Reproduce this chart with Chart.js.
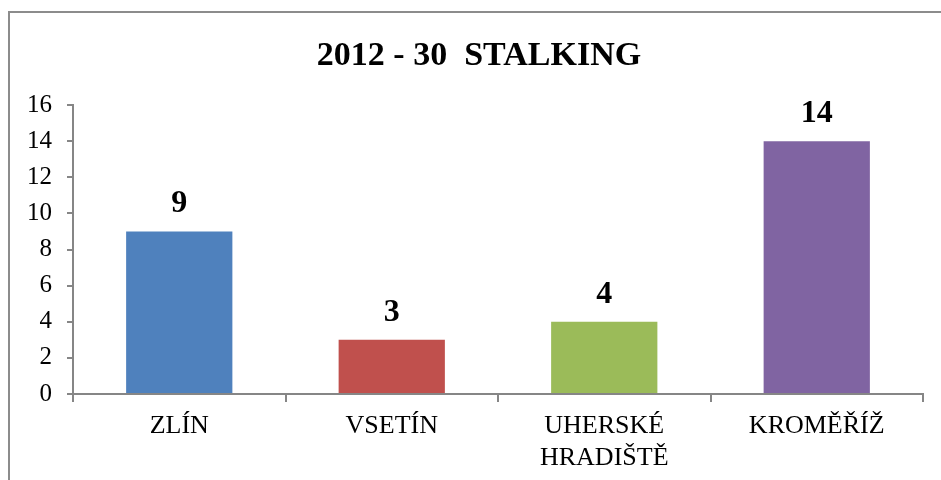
<!DOCTYPE html>
<html lang="cs">
<head>
    <meta charset="UTF-8">
    <title>2012 - 30 STALKING</title>
    <style>
    body {
        margin: 0;
        background-color: #fff;
        overflow: hidden;
    }
    /* ramecek grafu, vpravo a dole oriznuty */
    .frame {
        position: absolute;
        left: 8px;
        top: 11px;
        width: 1000px;
        height: 600px;
        border-left: 2px solid #8c8c8c;
        border-top: 2px solid #8c8c8c;
    }
    .chart-box {
        position: absolute;
        left: 0;
        top: 0;
        width: 941px;
        height: 480px;
    }
    </style>
</head>
<body>
<div class="frame"></div>
<div class="chart-box"><canvas id="chart"></canvas></div>

<script src="https://cdn.jsdelivr.net/npm/chart.js"></script>
<script>
    var titleText = '2012 - 30  STALKING';
    var categories = [['ZLÍN'], ['VSETÍN'], ['UHERSKÉ', 'HRADIŠTĚ'], ['KROMĚŘÍŽ']];
    var values = [9, 3, 4, 14];
    var barColors = ['#4F81BD', '#C0504D', '#9BBB59', '#8064A2'];
    var yTicks = [0, 2, 4, 6, 8, 10, 12, 14, 16];

    var serif = '"Liberation Serif", "Times New Roman", serif';
    var axisColor = '#868686';

    // nadpis je centrovany na cely ramecek, ne na oblast grafu
    var frameTitle = {
        id: 'frameTitle',
        afterDraw: function(chart) {
            var ctx = chart.ctx;
            ctx.save();
            ctx.font = 'bold 34px ' + serif;
            ctx.fillStyle = '#000';
            ctx.textAlign = 'center';
            ctx.textBaseline = 'alphabetic';
            ctx.fillText(titleText, 479, 65);
            ctx.restore();
        }
    };

    // hodnoty nad sloupci
    var valueLabels = {
        id: 'valueLabels',
        afterDatasetsDraw: function(chart) {
            var ctx = chart.ctx;
            var meta = chart.getDatasetMeta(0);
            ctx.save();
            ctx.font = 'bold 32px ' + serif;
            ctx.fillStyle = '#000';
            ctx.textAlign = 'center';
            ctx.textBaseline = 'alphabetic';
            meta.data.forEach(function(bar, i) {
                ctx.fillText(String(values[i]), bar.x, bar.y - 19);
            });
            ctx.restore();
        }
    };

    new Chart(document.getElementById('chart'), {
        type: 'bar',
        data: {
            labels: categories,
            datasets: [{
                data: values,
                backgroundColor: barColors,
                borderWidth: 0,
                barPercentage: 0.5,
                categoryPercentage: 1
            }]
        },
        options: {
            responsive: true,
            maintainAspectRatio: false,
            animation: false,
            layout: {
                padding: { left: 0, right: 18, top: 105, bottom: 0 }
            },
            plugins: {
                legend: { display: false },
                tooltip: { enabled: false },
                title: { display: false }
            },
            scales: {
                x: {
                    grid: {
                        display: true,
                        offset: true,
                        drawOnChartArea: false,
                        drawTicks: true,
                        tickLength: 8,
                        color: axisColor,
                        lineWidth: 2
                    },
                    border: { display: true, color: axisColor, width: 2 },
                    ticks: {
                        color: '#000',
                        padding: 9,
                        maxRotation: 0,
                        autoSkip: false,
                        font: { family: serif, size: 26, lineHeight: 1.2 }
                    },
                    afterFit: function(scale) { scale.height = 86; }
                },
                y: {
                    min: 0,
                    max: 16,
                    afterBuildTicks: function(scale) {
                        scale.ticks = yTicks.map(function(v) { return { value: v }; });
                    },
                    grid: {
                        display: true,
                        drawOnChartArea: false,
                        drawTicks: true,
                        tickLength: 6,
                        color: axisColor,
                        lineWidth: 2
                    },
                    border: { display: true, color: axisColor, width: 2 },
                    ticks: {
                        color: '#000',
                        padding: 15,
                        font: { family: serif, size: 25 }
                    },
                    afterFit: function(scale) { scale.width = 73; }
                }
            }
        },
        plugins: [valueLabels, frameTitle]
    });
</script>
</body>
</html>
